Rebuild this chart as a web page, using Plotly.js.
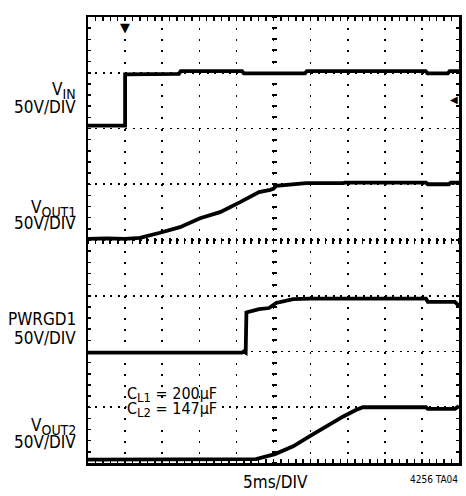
<!DOCTYPE html>
<html>
<head>
<meta charset="utf-8">
<script src="https://cdn.plot.ly/plotly-3.0.1.min.js"></script>
<style>html,body{margin:0;padding:0;background:#fff;}#chart{width:466px;height:496px;}</style>
</head>
<body>
<div id="chart"></div>
<script>
// Time axis in divisions (5ms/DIV), vertical in divisions (50V/DIV per channel)
const vinX   = [0, 1.0, 1.0, 2.45, 2.5, 4.15, 4.2, 5.85, 5.9, 9.1, 9.15, 9.7, 9.75, 10];
const vinY   = [6.05, 6.05, 6.97, 6.98, 7.03, 7.03, 6.99, 6.99, 7.03, 7.03, 6.99, 6.99, 7.03, 7.03];

const vout1X = [0, 0.5, 1.0, 1.4, 1.94, 2.48, 3.02, 3.56, 4.10, 4.61, 4.91, 5.0, 5.07, 5.44, 5.88, 6.87, 6.93, 9.11, 9.16, 9.73, 9.78, 10];
const vout1Y = [4.02, 4.03, 4.02, 4.04, 4.13, 4.23, 4.39, 4.50, 4.68, 4.86, 4.90, 4.92, 4.97, 5.0, 5.02, 5.02, 5.03, 5.03, 5.0, 5.0, 5.03, 5.03];

const pwrgdX = [0, 4.15, 4.2, 4.25, 4.27, 4.61, 4.88, 5.07, 5.53, 5.98, 9.11, 9.16, 9.89, 10];
const pwrgdY = [1.98, 1.98, 2.0, 1.98, 2.70, 2.76, 2.78, 2.87, 2.94, 2.95, 2.95, 2.89, 2.89, 2.82];

const vout2X = [0, 4.53, 5.04, 5.53, 5.98, 6.42, 6.87, 7.22, 7.41, 9.11, 9.16, 9.89, 10];
const vout2Y = [0.06, 0.07, 0.16, 0.30, 0.48, 0.66, 0.83, 0.95, 1.0, 1.0, 0.97, 0.97, 1.02];

const channelNames = ['V', 'V', 'PWRGD1', 'V'];
const channelSubs = ['IN', 'OUT1', '', 'OUT2'];
const scaleLabel = '50V/DIV';
const capNames = ['C', 'C'];
const capSubs = ['L1', 'L2'];
const capValues = ['200µF', '147µF'];
const timeLabel = '5ms/DIV';
const figId = '4256 TA04';
const triggerX = 1.0;

const NARROW = "'Liberation Sans Narrow', 'Arial Narrow', 'DejaVu Sans Condensed', sans-serif";
const lineStyle = {color: '#000', width: 3.8};

function sub(name, s, size) {
  return s ? name + '<sub><span style="font-size:' + size + 'px">' + s + '</span></sub>' : name;
}

const traces = [
  {x: vinX, y: vinY, mode: 'lines', line: lineStyle, xaxis: 'x', yaxis: 'y', hoverinfo: 'skip'},
  {x: vout1X, y: vout1Y, mode: 'lines', line: lineStyle, xaxis: 'x2', yaxis: 'y', hoverinfo: 'skip'},
  {x: pwrgdX, y: pwrgdY, mode: 'lines', line: lineStyle, xaxis: 'x', yaxis: 'y2', hoverinfo: 'skip'},
  {x: vout2X, y: vout2Y, mode: 'lines', line: lineStyle, xaxis: 'x', yaxis: 'y', hoverinfo: 'skip'}
];

// label vertical centres in pixels from top of the figure
const labelPx = [[90, 107], [208, 223], [319, 338], [426, 442]];
const capPx = [394, 409];
const plotTop = 17, plotH = 446, plotL = 88, plotW = 371;
const py = p => (plotTop + plotH - p) / plotH;
const px = p => (p - plotL) / plotW;

const annotations = [];
channelNames.forEach((n, i) => {
  annotations.push({xref: 'paper', yref: 'paper', x: px(78), y: py(labelPx[i][0]), xanchor: 'right', yanchor: 'middle',
    text: sub(n, channelSubs[i], 14), showarrow: false, font: {family: NARROW, size: 17, color: '#000'}});
  annotations.push({xref: 'paper', yref: 'paper', x: px(78), y: py(labelPx[i][1]), xanchor: 'right', yanchor: 'middle',
    text: scaleLabel, showarrow: false, font: {family: NARROW, size: 17, color: '#000'}});
});
// second capacitor line first (with white box hiding the grid dots), first line drawn over it
[1, 0].forEach(i => {
  annotations.push({xref: 'paper', yref: 'paper', x: px(126), y: py(capPx[i]), xanchor: 'left', yanchor: 'middle',
    text: sub(capNames[i], capSubs[i], 13) + ' = ' + capValues[i], showarrow: false,
    bgcolor: i === 1 ? '#fff' : 'rgba(0,0,0,0)', borderpad: 0,
    font: {family: NARROW, size: 16, color: '#000'}});
});
annotations.push({xref: 'paper', yref: 'paper', x: px(275), y: py(482), xanchor: 'center', yanchor: 'middle',
  text: timeLabel, showarrow: false, font: {family: NARROW, size: 17, color: '#000'}});
annotations.push({xref: 'paper', yref: 'paper', x: px(460), y: py(479), xanchor: 'right', yanchor: 'middle',
  text: figId, showarrow: false, font: {family: NARROW, size: 10, color: '#000'}});
annotations.push({xref: 'x', yref: 'paper', x: triggerX, y: py(28), xanchor: 'center', yanchor: 'middle',
  text: '▼', showarrow: false, font: {family: 'DejaVu Sans', size: 13, color: '#000'}});
annotations.push({xref: 'paper', yref: 'paper', x: px(454), y: py(100), xanchor: 'center', yanchor: 'middle',
  text: '◀', showarrow: false, font: {family: 'DejaVu Sans', size: 10, color: '#000'}});

const baseAxis = {
  showticklabels: false, zeroline: false, fixedrange: true,
  showline: true, linecolor: '#000', linewidth: 2.5, mirror: 'allticks',
  ticks: 'inside', ticklen: 4, tickwidth: 1.5, tickcolor: '#000',
  showgrid: true, gridcolor: '#000', gridwidth: 1.6
};

const layout = {
  width: 466, height: 496,
  margin: {l: 88, r: 7, t: 17, b: 33},
  paper_bgcolor: '#fff', plot_bgcolor: '#fff',
  showlegend: false,
  xaxis: Object.assign({}, baseAxis, {range: [0, 10], tickmode: 'linear', tick0: 0, dtick: 1, griddash: '2px,9.15px',
    minor: {tickmode: 'linear', tick0: 0, dtick: 0.2, ticks: 'inside', ticklen: 4, tickwidth: 1.5, tickcolor: '#000', showgrid: false}}),
  yaxis: Object.assign({}, baseAxis, {range: [0, 8], tickmode: 'linear', tick0: 0, dtick: 1, griddash: '2px,5.42px', ticklen: 3,
    minor: {tickmode: 'linear', tick0: 0, dtick: 0.2, ticks: 'inside', ticklen: 3, tickwidth: 1.5, tickcolor: '#000', showgrid: false}}),
  xaxis2: {overlaying: 'x', anchor: 'free', position: py(237), side: 'bottom', range: [0, 10],
    tickmode: 'linear', tick0: 0, dtick: 0.2, ticks: 'outside', ticklen: 6, tickwidth: 1.8, tickcolor: '#000',
    showline: false, showgrid: false, zeroline: false, showticklabels: false, fixedrange: true},
  yaxis2: {overlaying: 'y', anchor: 'free', position: px(276.5), side: 'left', range: [0, 8],
    tickmode: 'linear', tick0: 0, dtick: 0.2, ticks: 'outside', ticklen: 5, tickwidth: 2, tickcolor: '#000',
    showline: false, showgrid: false, zeroline: false, showticklabels: false, fixedrange: true},
  annotations: annotations
};

Plotly.newPlot('chart', traces, layout, {staticPlot: true, displayModeBar: false});
</script>
</body>
</html>
